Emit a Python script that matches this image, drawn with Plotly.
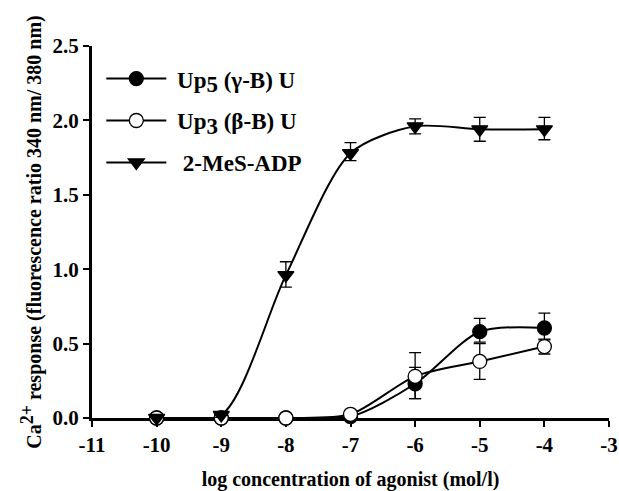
import plotly.graph_objects as go

x_log = [-10, -9, -8, -7, -6, -5, -4]

up5_y = [0.0, 0.0, 0.0, 0.01, 0.23, 0.58, 0.605]
up5_err_plus = [0, 0, 0, 0, 0.11, 0.09, 0.10]
up5_err_minus = [0, 0, 0, 0, 0.10, 0.07, 0.08]

up3_y = [0.0, 0.0, 0.0, 0.025, 0.28, 0.38, 0.48]
up3_err_plus = [0, 0, 0, 0, 0.16, 0.12, 0.05]
up3_err_minus = [0, 0, 0, 0, 0.15, 0.12, 0.05]

mes_y = [0.0, 0.02, 0.96, 1.78, 1.96, 1.94, 1.94]
mes_err_plus = [0, 0, 0.09, 0.07, 0.05, 0.08, 0.08]
mes_err_minus = [0, 0, 0.08, 0.05, 0.05, 0.08, 0.07]

x_ticks = [-11, -10, -9, -8, -7, -6, -5, -4, -3]
y_ticks = [0.0, 0.5, 1.0, 1.5, 2.0, 2.5]

FONT = "Liberation Serif"

fig = go.Figure()


def add(name, y, ep, em, symbol, fill, group):
    fig.add_trace(go.Scatter(
        x=x_log, y=y, name=name, mode="lines+markers",
        legendgroup=group,
        line=dict(color="black", width=2, shape="spline", smoothing=0.8),
        marker=dict(symbol=symbol, size=14, color=fill,
                    line=dict(color="black", width=1.3)),
        error_y=dict(type="data", symmetric=False, array=ep, arrayminus=em,
                     color="black", thickness=1.3, width=6),
        cliponaxis=False,
    ))


SUB = "<sub><span style='font-size:23px'>{}</span></sub>"
add(" Up" + SUB.format("5") + " (γ-B) U", up5_y, up5_err_plus, up5_err_minus, "circle", "black", "a")
add(" Up" + SUB.format("3") + " (β-B) U", up3_y, up3_err_plus, up3_err_minus, "circle", "white", "b")
add("  2-MeS-ADP", mes_y, mes_err_plus, mes_err_minus, "triangle-down", "black", "c")

fig.update_layout(
    width=619, height=491,
    margin=dict(l=92, r=10, t=46, b=73),
    paper_bgcolor="white", plot_bgcolor="white",
    font=dict(family=FONT, size=21, color="black", weight="bold"),
    showlegend=True,
    legend=dict(x=0.018, y=0.97, xanchor="left", yanchor="top",
                bgcolor="rgba(0,0,0,0)", tracegroupgap=9,
                font=dict(family=FONT, size=23, color="black", weight="bold"),
                itemwidth=60),
    xaxis=dict(range=[-11, -3], tickvals=x_ticks,
               ticktext=[str(v) for v in x_ticks],
               showgrid=False, zeroline=False, automargin=False,
               ticklabeloverflow="allow",
               showline=True, linecolor="black", linewidth=3,
               ticks="outside", ticklen=6, tickwidth=2, tickcolor="black",
               layer="below traces",
               title=dict(text="log concentration of agonist (mol/l)",
                          font=dict(size=20), standoff=22)),
    yaxis=dict(range=[0, 2.5], tickvals=y_ticks,
               ticktext=[f"{v:.1f}" for v in y_ticks],
               showgrid=False, zeroline=False, automargin=False,
               ticklabeloverflow="allow",
               showline=True, linecolor="black", linewidth=3,
               ticks="outside", ticklen=6, tickwidth=2, tickcolor="black",
               layer="below traces",
               title=dict(text="Ca<sup><span style='font-size:18px'>2+</span></sup>"
                               " response (fluorescence ratio 340 nm/ 380 nm)",
                          font=dict(size=20), standoff=6)),
)

# remove the browser's default 8px body margin so the figure fills the window
fig.write_html("out.html", config={"displayModeBar": False},
               post_script="document.body.style.margin='0';")
